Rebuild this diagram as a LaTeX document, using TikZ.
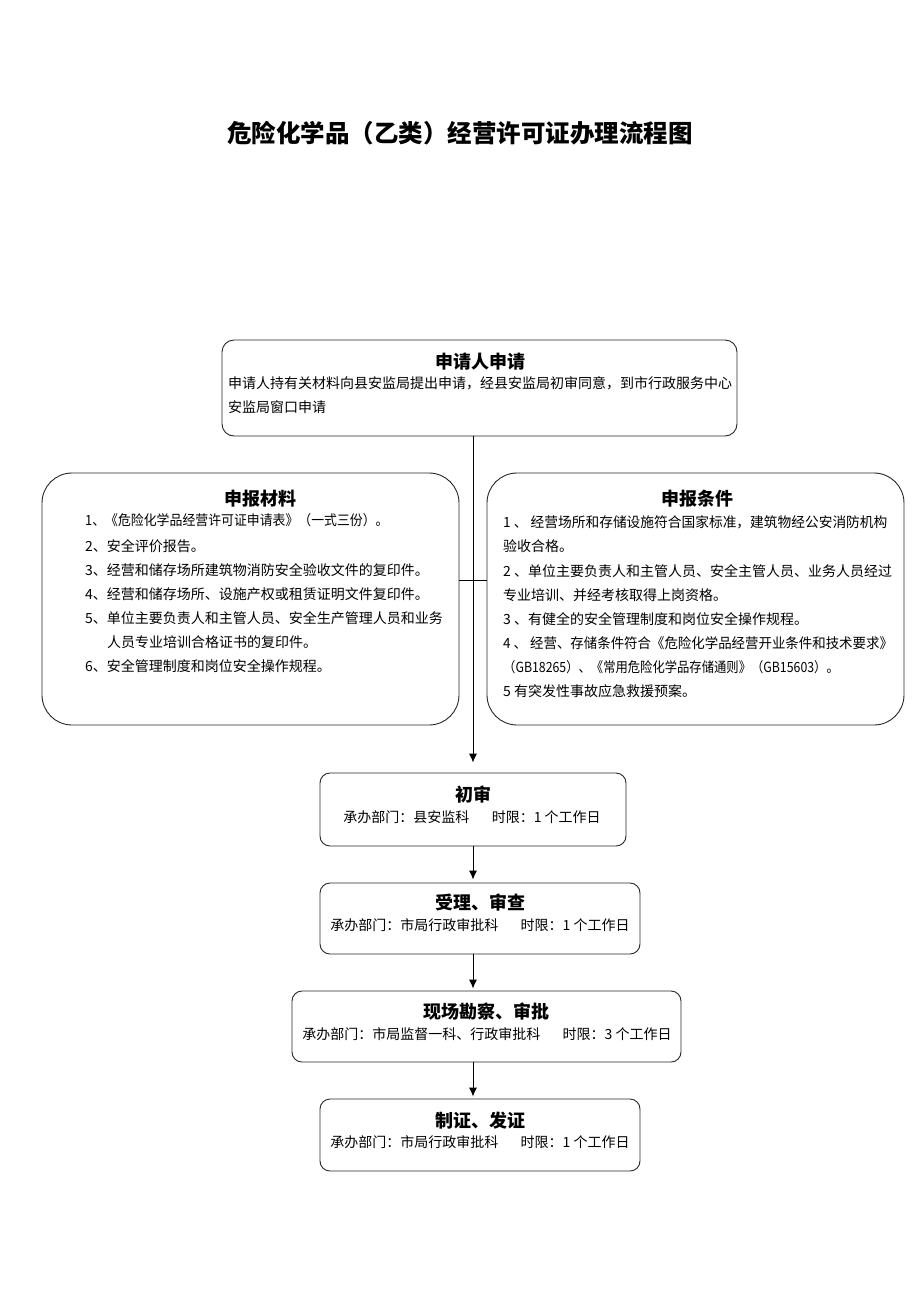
\documentclass[tikz,border=0pt]{standalone}
\usepackage{fontspec}
\setmainfont{Noto Sans CJK SC}
\usetikzlibrary{arrows.meta,calc}
\begin{document}
\begin{tikzpicture}[x=1pt,y=-1pt,
  box/.style={draw=black!85,line width=0.9pt,rounded corners=#1,inner sep=0pt},
  ttl/.style={font=\fontsize{24.5}{28}\selectfont\bfseries,inner sep=0pt},
  head/.style={font=\fontsize{18}{22}\selectfont\bfseries,inner sep=0pt},
  body/.style={font=\fontsize{14}{17}\selectfont,inner sep=0pt,anchor=west,text height=0.88em,text depth=0.12em},
  sub/.style={font=\fontsize{14}{17}\selectfont,inner sep=0pt,text height=0.88em,text depth=0.12em},
  conn/.style={line width=0.9pt,draw=black},
  arr/.style={conn,-{Latex[length=9pt,width=8pt]}}]
\path[use as bounding box,fill=white] (0,0) rectangle (920,1302);

\node[ttl] (title) at (460,133) {危险化学品（乙类）经营许可证办理流程图};

% boxes
\node[box=12pt,minimum width=515pt,minimum height=96pt] (apply) at (479.5,388) {};
\node[box=30pt,minimum width=417pt,minimum height=252pt] (mat) at (250.5,599) {};
\node[box=30pt,minimum width=417pt,minimum height=252pt] (cond) at (695.5,599) {};
\node[box=10pt,minimum width=306pt,minimum height=73pt] (chu) at (473,809.5) {};
\node[box=10pt,minimum width=320pt,minimum height=71pt] (shou) at (480,918.5) {};
\node[box=10pt,minimum width=389pt,minimum height=71pt] (xian) at (486.5,1026.5) {};
\node[box=10pt,minimum width=320pt,minimum height=72pt] (zhi) at (480,1135) {};

% connectors
\coordinate (axis) at (473,0);
\coordinate (hline) at (473,580);
\draw[arr,shorten >=10pt] (apply.south -| axis) -- (chu.north -| axis);
\draw[conn] (mat.east |- hline) -- (cond.west |- hline);
\draw[arr,shorten >=3pt] (chu.south -| axis) -- (shou.north -| axis);
\draw[arr,shorten >=2pt] (shou.south -| axis) -- (xian.north -| axis);
\draw[arr,shorten >=2pt] (xian.south -| axis) -- (zhi.north -| axis);

% apply box text
\node[head] (applyh) at (480,362) {申请人申请};
\node[body] (a1) at (228,385) {申请人持有关材料向县安监局提出申请，经县安监局初审同意，到市行政服务中心};
\node[body] (a2) at (228,409) {安监局窗口申请};

% materials
\node[head] (math) at (260,499) {申报材料};
\node[body] (m1) at (85,522) {\scalebox{0.92}[1]{1、《危险化学品经营许可证申请表》（一式三份）。}};
\node[body] (m2) at (85,548) {2、安全评价报告。};
\node[body] (m3) at (85,572) {3、经营和储存场所建筑物消防安全验收文件的复印件。};
\node[body] (m4) at (85,596) {4、经营和储存场所、设施产权或租赁证明文件复印件。};
\node[body] (m5) at (85,620) {5、单位主要负责人和主管人员、安全生产管理人员和业务};
\node[body] (m5b) at (107,644) {人员专业培训合格证书的复印件。};
\node[body] (m6) at (85,668) {6、安全管理制度和岗位安全操作规程。};

% conditions
\node[head] (condh) at (697,499) {申报条件};
\node[body] (c1) at (503,524) {\scalebox{0.98}[1]{1 、 经营场所和存储设施符合国家标准，建筑物经公安消防机构}};
\node[body] (c1b) at (503,548) {验收合格。};
\node[body] (c2) at (503,573) {2 、单位主要负责人和主管人员、安全主管人员、业务人员经过};
\node[body] (c2b) at (503,597) {专业培训、并经考核取得上岗资格。};
\node[body] (c3) at (503,621) {3 、有健全的安全管理制度和岗位安全操作规程。};
\node[body] (c4) at (503,645) {\scalebox{0.96}[1]{4 、 经营、存储条件符合《危险化学品经营开业条件和技术要求》}};
\node[body] (c4b) at (503,669) {\scalebox{0.88}[1]{（GB18265）、《常用危险化学品存储通则》（GB15603）。}};
\node[body] (c5) at (503,693) {5 有突发性事故应急救援预案。};

% steps
\node[head] (chuh) at (473,795) {初审};
\node[sub] (chus) at (472,819) {承办部门：县安监科\hspace{1.6em}时限：1 个工作日};
\node[head] (shouh) at (480,903) {受理、审查};
\node[sub] (shous) at (480,927) {承办部门：市局行政审批科\hspace{1.6em}时限：1 个工作日};
\node[head] (xianh) at (486,1012) {现场勘察、审批};
\node[sub] (xians) at (487,1036) {承办部门：市局监督一科、行政审批科\hspace{1.6em}时限：3 个工作日};
\node[head] (zhih) at (480,1121) {制证、发证};
\node[sub] (zhis) at (480,1144) {承办部门：市局行政审批科\hspace{1.6em}时限：1 个工作日};
\end{tikzpicture}
\end{document}
